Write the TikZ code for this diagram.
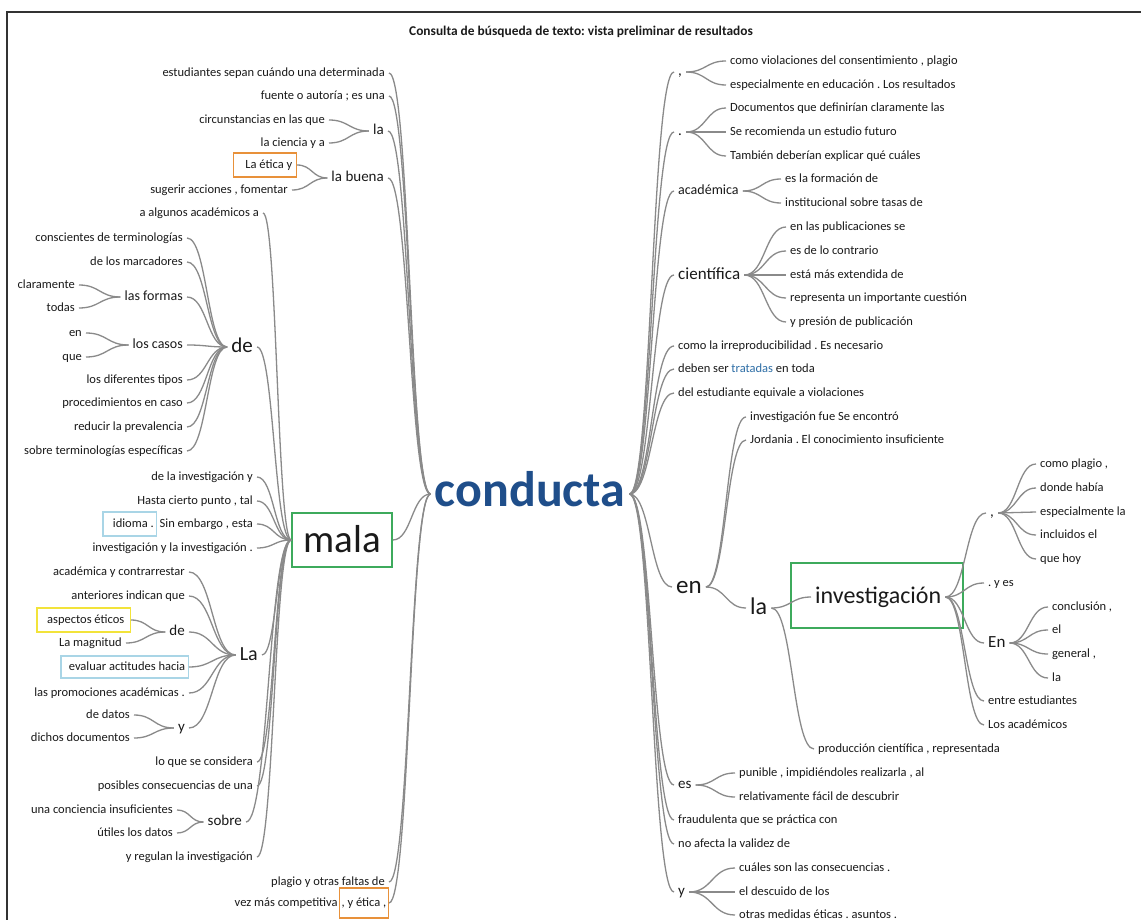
\documentclass[tikz,border=0pt]{standalone}
\usepackage{fontspec}
\setmainfont{Carlito}
\usetikzlibrary{calc}
\frenchspacing
\definecolor{cblue}{HTML}{1F4E8A}
\definecolor{tblue}{HTML}{2E6EA6}
\definecolor{hlgreen}{HTML}{3DAA5C}
\definecolor{hlorange}{HTML}{E8913A}
\definecolor{hlyellow}{HTML}{F2E33A}
\definecolor{hlblue}{HTML}{A9D5E6}
\definecolor{wtgray}{HTML}{8A8A8A}
\definecolor{frame}{HTML}{333333}
\definecolor{ink}{HTML}{1A1A1A}
\tikzset{fs/.code={%
  \pgfmathsetlengthmacro\wtH{0.72*#1pt}%
  \pgfmathsetlengthmacro\wtD{0.22*#1pt}%
  \edef\wtTmp{\noexpand\tikzset{text height=\wtH,text depth=\wtD}}\wtTmp
  \tikzset{font=\fontsize{#1pt}{#1pt}\selectfont}}}
% word-tree connector: S-curve from the east side of #1 to the west side of #2
\newcommand\wtlink[2]{\draw[ln] let \p1=(#1.east), \p2=(#2.west), \p3=($(\p1)!0.5!(\p2)$) in (\p1) .. controls (\x3,\y1) and (\x3,\y2) .. (\p2);}
\begin{document}
\begin{tikzpicture}[x=1pt,y=-1pt,
  wt/.style={inner xsep=4pt, inner ysep=0pt, text=ink},
  L/.style={wt,anchor=east,fs=12.5},
  R/.style={wt,anchor=west,fs=12.5},
  ln/.style={draw=wtgray, line width=1.3pt},
  hl/.style={draw=#1, line width=1.5pt, inner ysep=6pt}]
\useasboundingbox (0,0) rectangle (1141,920);
\fill[white] (0,0) rectangle (1141,920);
\draw[frame, line width=1.2pt] (7,920) -- (7,12) -- (1141,12);
\node[font=\bfseries\fontsize{13.4}{13.4}\selectfont, text=ink] (title) at (581,32) {Consulta de búsqueda de texto: vista preliminar de resultados};

% central word
\node[wt,fs=50,text=cblue] (c) at (530,494) {\bfseries conducta};

% ---------- left branches ----------
\node[L] (l1) at (389,73) {estudiantes sepan cuándo una determinada};
\node[L] (l2) at (389,96) {fuente o autoría ; es una};
\node[L,fs=15] (lla) at (388,131) {la};
\node[L] (lla1) at (329,120) {circunstancias en las que};
\node[L] (lla2) at (329,143) {la ciencia y a};
\node[L,fs=15] (lbu) at (388,178) {la buena};
\node[L,hl=hlorange] (lbu1) at (297,165) {\hspace*{8pt}La ética y};
\node[L] (lbu2) at (292,190) {sugerir acciones , fomentar};
\node[wt,fs=39,text height=28pt,text depth=4pt,draw=hlgreen,line width=1.6pt,
      minimum width=100pt,minimum height=54pt,inner sep=0pt] (mala) at (342,540) {mala};
\node[L] (p1) at (389,882) {plagio y otras faltas de};
\node[L,hl=hlorange,inner xsep=2pt,inner ysep=9pt] (p2) at (389,903) {, y ética ,};
\node[wt,fs=12.5,anchor=east,inner xsep=1pt] (p2b) at (p2.west) {vez más competitiva};

% children of "mala"
\node[L] (m1) at (263,213) {a algunos académicos a};
\node[L,fs=21] (mde) at (257,347) {de};
\node[L] (d1) at (187,238) {conscientes de terminologías};
\node[L] (d2) at (187,262) {de los marcadores};
\node[L,fs=14] (d3) at (187,297) {las formas};
\node[L] (d31) at (79,285) {claramente};
\node[L] (d32) at (79,308) {todas};
\node[L,fs=14] (d4) at (187,345) {los casos};
\node[L] (d41) at (86,333) {en};
\node[L] (d42) at (86,357) {que};
\node[L] (d5) at (187,380) {los diferentes tipos};
\node[L] (d6) at (187,403) {procedimientos en caso};
\node[L] (d7) at (187,427) {reducir la prevalencia};
\node[L] (d8) at (187,451) {sobre terminologías específicas};
\node[L] (m3) at (257,477) {de la investigación y};
\node[L] (m4) at (257,501) {Hasta cierto punto , tal};
\node[L] (m5) at (257,524) {Sin embargo , esta};
\node[wt,fs=12.5,anchor=east,hl=hlblue,inner xsep=3pt] (m5b) at ($(m5.west)+(2,0)$) {\hspace*{7pt}idioma .};
\node[L] (m6) at (257,548) {investigación y la investigación .};
\node[L,fs=20] (mLa) at (262,655) {La};
\node[L] (a1) at (189,572) {académica y contrarrestar};
\node[L] (a2) at (189,596) {anteriores indican que};
\node[L,fs=15] (a3) at (189,632) {de};
\node[L,hl=hlyellow] (a31) at (131,620) {\hspace*{6pt}aspectos éticos\hspace*{2pt}};
\node[L] (a32) at (126,643) {La magnitud};
\node[L,hl=hlblue,inner ysep=5pt,inner xsep=3pt] (a4) at (189,667) {\hspace*{5pt}evaluar actitudes hacia};
\node[L] (a5) at (189,693) {las promociones académicas .};
\node[L,fs=15] (a6) at (189,728) {y};
\node[L] (a61) at (134,715) {de datos};
\node[L] (a62) at (134,738) {dichos documentos};
\node[L] (m8) at (257,762) {lo que se considera};
\node[L] (m9) at (257,786) {posibles consecuencias de una};
\node[L,fs=15] (mso) at (246,822) {sobre};
\node[L] (s1) at (177,810) {una conciencia insuficientes};
\node[L] (s2) at (177,833) {útiles los datos};
\node[L] (m11) at (257,857) {y regulan la investigación};

% ---------- right branches ----------
\node[R,fs=15] (r1) at (674,72) {,};
\node[R] (r11) at (726,61) {como violaciones del consentimiento , plagio};
\node[R] (r12) at (726,85) {especialmente en educación . Los resultados};
\node[R,fs=15] (r2) at (674,132) {.};
\node[R] (r21) at (726,108) {Documentos que definirían claramente las};
\node[R] (r22) at (726,132) {Se recomienda un estudio futuro};
\node[R] (r23) at (726,156) {También deberían explicar qué cuáles};
\node[R,fs=14] (r3) at (674,191) {académica};
\node[R] (r31) at (781,179) {es la formación de};
\node[R] (r32) at (781,203) {institucional sobre tasas de};
\node[R,fs=17] (r4) at (674,275) {científica};
\node[R] (r41) at (786,227) {en las publicaciones se};
\node[R] (r42) at (786,251) {es de lo contrario};
\node[R] (r43) at (786,275) {está más extendida de};
\node[R] (r44) at (786,298) {representa un importante cuestión};
\node[R] (r45) at (786,322) {y presión de publicación};
\node[R] (r5) at (674,346) {como la irreproducibilidad . Es necesario};
\node[R] (r6) at (674,369) {deben ser \textcolor{tblue}{tratadas} en toda};
\node[R] (r7) at (674,393) {del estudiante equivale a violaciones};
\node[R,fs=25] (ren) at (672,587) {en};
\node[R] (e1) at (746,417) {investigación fue Se encontró};
\node[R] (e2) at (746,440) {Jordania . El conocimiento insuficiente};
\node[R,fs=24] (ela) at (746,608) {la};
\node[draw=hlgreen,line width=1.6pt,minimum width=172pt,minimum height=65pt,inner sep=0pt] (invbox) at (877,595.5) {};
\node[R,fs=24] (inv) at (811,597) {investigación};
\node[R,fs=15] (i1) at (986,513) {,};
\node[R] (i11) at (1036,464) {como plagio ,};
\node[R] (i12) at (1036,488) {donde había};
\node[R] (i13) at (1036,512) {especialmente la};
\node[R] (i14) at (1036,535) {incluidos el};
\node[R] (i15) at (1036,559) {que hoy};
\node[R] (i2) at (984,583) {. y es};
\node[R,fs=17] (i3) at (984,643) {En};
\node[R] (i31) at (1048,607) {conclusión ,};
\node[R] (i32) at (1048,630) {el};
\node[R] (i33) at (1048,654) {general ,};
\node[R] (i34) at (1048,678) {la};
\node[R] (i4) at (984,701) {entre estudiantes};
\node[R] (i5) at (984,725) {Los académicos};
\node[R] (e3) at (814,749) {producción científica , representada};
\node[R,fs=15] (res) at (674,785) {es};
\node[R] (res1) at (735,773) {punible , impidiéndoles realizarla , al};
\node[R] (res2) at (735,797) {relativamente fácil de descubrir};
\node[R] (r9) at (674,820) {fraudulenta que se práctica con};
\node[R] (r10) at (674,844) {no afecta la validez de};
\node[R,fs=15] (ry) at (674,892) {y};
\node[R] (y1) at (735,868) {cuáles son las consecuencias .};
\node[R] (y2) at (735,892) {el descuido de los};
\node[R] (y3) at (735,915) {otras medidas éticas . asuntos .};

% ---------- connectors ----------
\foreach \k in {l1,l2,lla,lbu,mala,p1,p2} {\wtlink{\k}{c}}
\foreach \k in {lla1,lla2} {\wtlink{\k}{lla}}
\foreach \k in {lbu1,lbu2} {\wtlink{\k}{lbu}}
\foreach \k in {m1,mde,m3,m4,m5,m6,mLa,m8,m9,mso,m11} {\wtlink{\k}{mala}}
\foreach \k in {d1,d2,d3,d4,d5,d6,d7,d8} {\wtlink{\k}{mde}}
\foreach \k in {d31,d32} {\wtlink{\k}{d3}}
\foreach \k in {d41,d42} {\wtlink{\k}{d4}}
\foreach \k in {a1,a2,a3,a4,a5,a6} {\wtlink{\k}{mLa}}
\foreach \k in {a31,a32} {\wtlink{\k}{a3}}
\foreach \k in {a61,a62} {\wtlink{\k}{a6}}
\foreach \k in {s1,s2} {\wtlink{\k}{mso}}

\foreach \k in {r1,r2,r3,r4,r5,r6,r7,ren,res,r9,r10,ry} {\wtlink{c}{\k}}
\foreach \k in {r11,r12} {\wtlink{r1}{\k}}
\foreach \k in {r21,r22,r23} {\wtlink{r2}{\k}}
\foreach \k in {r31,r32} {\wtlink{r3}{\k}}
\foreach \k in {r41,r42,r43,r44,r45} {\wtlink{r4}{\k}}
\foreach \k in {e1,e2,ela} {\wtlink{ren}{\k}}
\foreach \k in {inv,e3} {\wtlink{ela}{\k}}
\foreach \k in {i1,i2,i3,i4,i5} {\wtlink{inv}{\k}}
\foreach \k in {i11,i12,i13,i14,i15} {\wtlink{i1}{\k}}
\foreach \k in {i31,i32,i33,i34} {\wtlink{i3}{\k}}
\foreach \k in {res1,res2} {\wtlink{res}{\k}}
\foreach \k in {y1,y2,y3} {\wtlink{ry}{\k}}
\end{tikzpicture}
\end{document}
